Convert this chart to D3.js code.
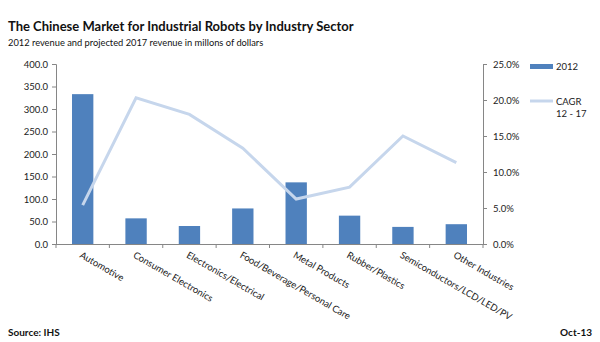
<!DOCTYPE html>
<html><head><meta charset="utf-8">
<script src="https://cdn.jsdelivr.net/npm/d3@7"></script>
<style>body{margin:0;background:#fff}svg{display:block}</style>
</head><body>
<svg id="c" width="600" height="342"></svg>
<script>
const categories = ["Automotive","Consumer Electronics","Electronics/Electrical","Food/Beverage/Personal Care","Metal Products","Rubber/Plastics","Semiconductors/LCD/LED/PV","Other Industries"];
const revenue2012 = [333, 57, 40, 79, 137, 63, 38, 44];
const cagr = [0.054, 0.203, 0.180, 0.133, 0.0625, 0.079, 0.150, 0.113];
const leftTicks = [0,50,100,150,200,250,300,350,400];
const rightTicks = [0,0.05,0.10,0.15,0.20,0.25];

const font = "Lato, 'Open Sans', sans-serif";
const svg = d3.select("#c");
const L = 56, R = 483, T = 64, B = 244;
const xb = d3.scaleBand().domain(categories).range([L, R]);
const y = d3.scaleLinear().domain([0, 400]).range([B, T]);
const y2 = d3.scaleLinear().domain([0, 0.25]).range([B, T]);
const axisCol = "#868686";

svg.append("text").attr("x", 8).attr("y", 31).attr("font-family", font).attr("font-weight", "bold").attr("font-size", 13).attr("fill", "#111").text("The Chinese Market for Industrial Robots by Industry Sector");
svg.append("text").attr("x", 8).attr("y", 46).attr("font-family", font).attr("font-size", 9.3).attr("fill", "#111").text("2012 revenue and projected 2017 revenue in millons of dollars");

// bars
svg.append("g").selectAll("rect").data(categories).join("rect")
  .attr("x", d => xb(d) + (xb.bandwidth() - xb.bandwidth() / 2.5) / 2)
  .attr("width", xb.bandwidth() / 2.5)
  .attr("y", (d, i) => y(revenue2012[i]))
  .attr("height", (d, i) => B - y(revenue2012[i]))
  .attr("fill", "#4f81bd");

// line
const line = d3.line().x((d, i) => xb(categories[i]) + xb.bandwidth() / 2).y(d => y2(d));
svg.append("path").datum(cagr).attr("d", line).attr("fill", "none").attr("stroke", "#c6d6ec").attr("stroke-width", 3).attr("stroke-linejoin", "miter");

// axes
const gl = svg.append("g").attr("transform", `translate(${L},0)`)
  .call(d3.axisLeft(y).tickValues(leftTicks).tickFormat(d3.format(".1f")).tickSize(4).tickPadding(4));
const gr = svg.append("g").attr("transform", `translate(${R},0)`)
  .call(d3.axisRight(y2).tickValues(rightTicks).tickFormat(d3.format(".1%")).tickSize(4).tickPadding(6));
[gl, gr].forEach(g => {
  g.select(".domain").attr("stroke", axisCol);
  g.selectAll(".tick line").attr("stroke", axisCol);
  g.selectAll(".tick text").attr("font-family", font).attr("font-size", 9.5).attr("fill", "#222");
});
const gx = svg.append("g");
gx.append("line").attr("x1", L).attr("x2", R).attr("y1", B + 0.5).attr("y2", B + 0.5).attr("stroke", axisCol);
gx.selectAll("line.t").data(d3.range(categories.length + 1)).join("line").attr("class", "t")
  .attr("x1", i => L + i * xb.bandwidth()).attr("x2", i => L + i * xb.bandwidth())
  .attr("y1", B).attr("y2", B + 4).attr("stroke", axisCol);
gx.selectAll("text").data(categories).join("text")
  .attr("transform", d => `translate(${xb(d) + xb.bandwidth() / 2 - 2},${B + 10}) rotate(30)`)
  .attr("font-family", font).attr("font-size", 9.5).attr("fill", "#222").attr("dy", "0.35em").text(d => d);

// legend
svg.append("rect").attr("x", 530).attr("y", 64).attr("width", 23).attr("height", 5).attr("fill", "#4f81bd");
svg.append("text").attr("x", 556).attr("y", 70).attr("font-family", font).attr("font-size", 9.5).attr("fill", "#222").text("2012");
svg.append("line").attr("x1", 530).attr("x2", 553).attr("y1", 101).attr("y2", 101).attr("stroke", "#c6d6ec").attr("stroke-width", 3);
svg.append("text").attr("x", 556).attr("y", 105).attr("font-family", font).attr("font-size", 9.5).attr("fill", "#222").text("CAGR");
svg.append("text").attr("x", 556).attr("y", 117).attr("font-family", font).attr("font-size", 9.5).attr("fill", "#222").text("12 - 17");

svg.append("text").attr("x", 8).attr("y", 336).attr("font-family", font).attr("font-weight", "bold").attr("font-size", 10).attr("fill", "#111").text("Source: IHS");
svg.append("text").attr("x", 592).attr("y", 336).attr("text-anchor", "end").attr("font-family", font).attr("font-weight", "bold").attr("font-size", 10).attr("fill", "#111").text("Oct-13");
</script>
</body></html>
